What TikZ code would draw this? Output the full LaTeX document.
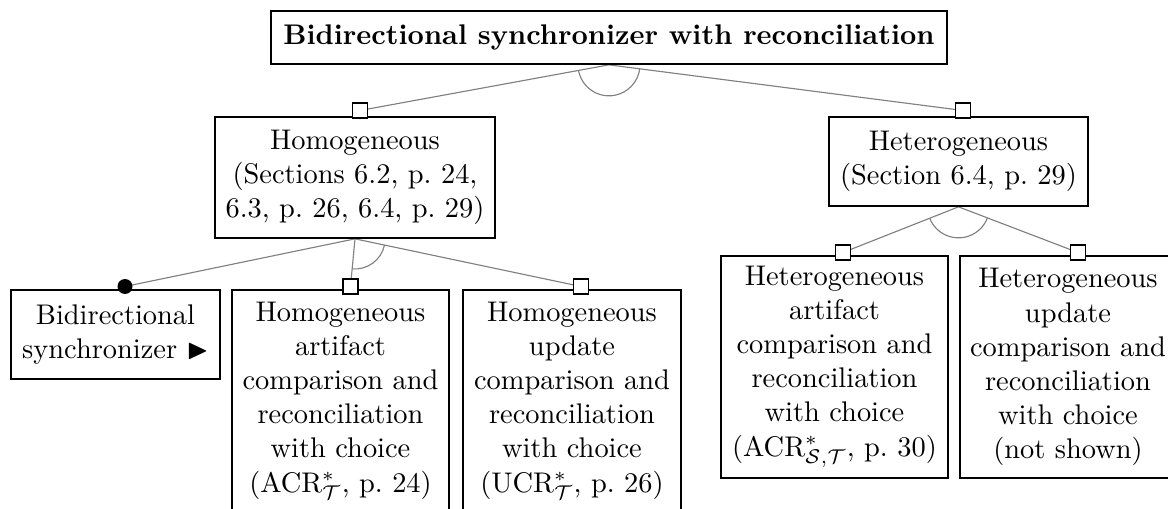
\documentclass[tikz,border=0pt]{standalone}
\usepackage{amssymb}
\usetikzlibrary{calc,backgrounds}

% one drawing unit
\newcommand\pxu{0.352pt}

\tikzset{
  featbox/.style={draw=black, line width=0.6pt, fill=white, align=center,
    inner sep=0pt, font=\normalsize},
  link/.style={draw=black!50, line width=0.4pt},
  optmark/.style={draw=black, line width=0.6pt, fill=white, inner sep=0pt,
    minimum size=15*\pxu},
  mandmark/.style={circle, fill=black, inner sep=0pt, minimum size=15*\pxu},
}

% arc drawn around junction #1 between the links to #2 and #3
\newcommand\grouparc[4]{%
  \draw[link] let \p1=($(#2)-(#1)$), \p2=($(#3)-(#1)$),
    \n1={atan2(\y1,\x1)}, \n2={atan2(\y2,\x2)} in
    (#1) ++(\n1:#4) arc[start angle=\n1, end angle=\n2, radius=#4];}

\begin{document}
\begin{tikzpicture}[x=0.352pt, y=-0.352pt]
\useasboundingbox (0,0) rectangle (1168,509);

% feature boxes
\node[featbox, minimum width=676*\pxu, minimum height=53*\pxu] (root) at (609,37.5)
  {\bfseries Bidirectional synchronizer with reconciliation};
\node[featbox, minimum width=280*\pxu, minimum height=121*\pxu] (hom) at (355,177.5)
  {Homogeneous\\(Sections 6.2, p.~24,\\6.3, p.~26, 6.4, p.~29)};
\node[featbox, minimum width=259*\pxu, minimum height=89*\pxu] (het) at (958.5,161.5)
  {Heterogeneous\\(Section 6.4, p.~29)};
\node[featbox, minimum width=209*\pxu, minimum height=89*\pxu] (bsync) at (115.5,334.5)
  {Bidirectional\\synchronizer $\blacktriangleright$};
\node[featbox, minimum width=217*\pxu, minimum height=222*\pxu] (hart) at (340.5,401)
  {Homogeneous\\artifact\\comparison and\\reconciliation\\with choice\\(ACR$^*_{\mathcal{T}}$, p.~24)};
\node[featbox, minimum width=218*\pxu, minimum height=222*\pxu] (hupd) at (572,401)
  {Homogeneous\\update\\comparison and\\reconciliation\\with choice\\(UCR$^*_{\mathcal{T}}$, p.~26)};
\node[featbox, minimum width=227*\pxu, minimum height=222*\pxu] (hetart) at (834.5,367)
  {Heterogeneous\\artifact\\comparison and\\reconciliation\\with choice\\(ACR$^*_{\mathcal{S},\mathcal{T}}$, p.~30)};
\node[featbox, minimum width=216*\pxu, minimum height=222*\pxu] (hetupd) at (1068,367)
  {Heterogeneous\\update\\comparison and\\reconciliation\\with choice\\(not shown)};

% markers on top of the child boxes
\node[optmark] (mhom) at (360,110.5) {};
\node[optmark] (mhet) at (963,110.5) {};
\node[mandmark] (mbsync) at (125,286.5) {};
\node[optmark] (mhart) at (350.5,286.5) {};
\node[optmark] (mhupd) at (581,286.5) {};
\node[optmark] (mhetart) at (843,252.5) {};
\node[optmark] (mhetupd) at (1078,252.5) {};

% junctions
\coordinate (jroot) at (root.south);
\coordinate (jhom) at (hom.south);
\coordinate (jhet) at (het.south);

\begin{scope}[on background layer]
  \draw[link] (jroot) -- (mhom.center);
  \draw[link] (jroot) -- (mhet.center);
  \draw[link] (jhom) -- (mbsync.center);
  \draw[link] (jhom) -- (mhart.center);
  \draw[link] (jhom) -- (mhupd.center);
  \draw[link] (jhet) -- (mhetart.center);
  \draw[link] (jhet) -- (mhetupd.center);
  \grouparc{jroot}{mhom}{mhet}{10.9pt}
  \grouparc{jhom}{mhart}{mhupd}{10.6pt}
  \grouparc{jhet}{mhetart}{mhetupd}{10.9pt}
\end{scope}
\end{tikzpicture}
\end{document}
